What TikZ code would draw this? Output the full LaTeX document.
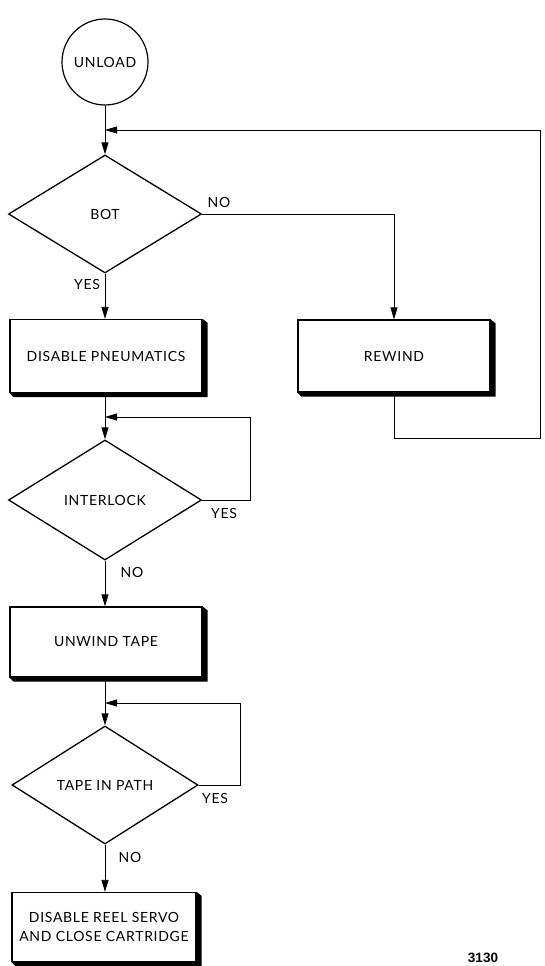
\documentclass[tikz,border=0pt]{standalone}
\usepackage{fontspec}
\setmainfont{Lato}[LetterSpace=5]
\newfontfamily\numfont{Liberation Sans}
\usetikzlibrary{shapes.geometric,arrows.meta,calc}
\begin{document}
\begin{tikzpicture}[x=1pt,y=-1pt,
  every node/.style={font=\fontsize{14}{16}\selectfont},
  decision/.style={diamond,draw,line width=1.3pt,inner sep=0pt},
  stepbox/.style={rectangle,draw,line width=1.2pt,fill=white,inner sep=0pt,align=center},
  startnode/.style={circle,draw,line width=1.2pt,minimum size=86pt,inner sep=0pt},
  flow/.style={line width=0.8pt,-{Triangle[length=12pt,width=7pt]}},
  lbl/.style={inner sep=0pt}]
\useasboundingbox (0,0) rectangle (545,966);

% nodes
\node[startnode] (unload) at (105,62) {UNLOAD};
\node[decision,minimum width=193pt,minimum height=118pt] (bot) at (105,214) {BOT};
\node[stepbox,minimum width=192pt,minimum height=73pt] (pneu) at (106,356) {DISABLE PNEUMATICS};
\node[stepbox,minimum width=192pt,minimum height=72pt] (rewind) at (394,356) {REWIND};
\node[decision,minimum width=193pt,minimum height=120pt] (ilock) at (105,500) {INTERLOCK};
\node[stepbox,minimum width=192pt,minimum height=70pt] (unwind) at (106,642) {UNWIND TAPE};
\node[decision,minimum width=186pt,minimum height=118pt] (tpath) at (105,785) {TAPE IN PATH};
\node[stepbox,minimum width=184pt,minimum height=69pt] (servo) at (104,927)
  {DISABLE REEL SERVO\\[3pt]AND CLOSE CARTRIDGE};

% raised edges on the boxes
\foreach \b in {pneu,rewind,unwind,servo}{
  \fill (\b.north east) -- ++(5,4) -- ($(\b.south east)+(5,4)$)
        -- ($(\b.south west)+(4,4)$) -- (\b.south west) -- (\b.south east) -- cycle;
}

% junction points
\coordinate (j1) at (105,130);
\coordinate (r1) at (540,438);
\coordinate (j2) at (105,417);
\coordinate (r2) at (250,417);
\coordinate (j3) at (105,703);
\coordinate (r3) at (240,703);

% connectors
\draw[flow] (unload.south) -- (bot.north);
\draw[flow] (bot.east) -| (rewind.north);
\draw[flow] (rewind.south) |- (r1) |- (j1);
\draw[flow] (bot.south) -- (bot.south |- pneu.north);
\draw[flow] (pneu.south -| bot.south) -- (ilock.north);
\draw[flow] (ilock.east) -| (r2) -- (j2);
\draw[flow] (ilock.south) -- (ilock.south |- unwind.north);
\draw[flow] (unwind.south -| ilock.south) -- (tpath.north);
\draw[flow] (tpath.east) -| (r3) -- (j3);
\draw[flow] (tpath.south) -- (tpath.south |- servo.north);

% branch labels
\node[lbl] (bno) at (219,202) {NO};
\node[lbl] (byes) at (87,284) {YES};
\node[lbl] (iyes) at (224,513) {YES};
\node[lbl] (ino) at (132,572) {NO};
\node[lbl] (tyes) at (215,798) {YES};
\node[lbl] (tno) at (130,857) {NO};

\node[lbl,font=\numfont\bfseries\fontsize{13.5}{15}\selectfont] (fig) at (483,958) {3130};
\end{tikzpicture}
\end{document}
